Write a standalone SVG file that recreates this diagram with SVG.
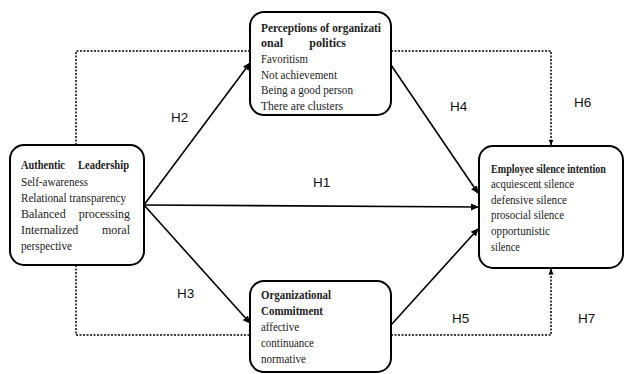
<svg xmlns="http://www.w3.org/2000/svg" width="626" height="374" viewBox="0 0 626 374">
<defs>
<style>
.box{fill:#fff;stroke:#000;stroke-width:2}
.t{font-family:"Liberation Serif","Times New Roman",serif;font-size:12px;fill:#222}
.b{font-weight:bold}
.h{font-family:"Liberation Sans",Arial,sans-serif;font-size:13.5px;fill:#111}
.sol{fill:none;stroke:#000;stroke-width:1.6}
.dot{fill:none;stroke:#000;stroke-width:1.5;stroke-dasharray:2,1.5}
</style>
<marker id="ah" markerWidth="8" markerHeight="8" refX="7" refY="4" orient="auto" markerUnits="userSpaceOnUse">
<path d="M0,0.5 L8,4 L0,7.5 Z" fill="#000"/>
</marker>
<marker id="ahs" markerWidth="6" markerHeight="6" refX="5.5" refY="3" orient="auto" markerUnits="userSpaceOnUse">
<path d="M0,0.5 L6,3 L0,5.5 Z" fill="#000"/>
</marker>
</defs>
<g id="connectors">
<path class="dot" d="M76,145 V51 H250"/>
<path class="dot" d="M391,51 H551 V145" marker-end="url(#ahs)"/>
<path class="dot" d="M76,265 V335 H250"/>
<path class="dot" d="M391,335 H551 V269" marker-end="url(#ahs)"/>
<path class="sol" d="M144,205 L250,63" marker-end="url(#ah)"/>
<path class="sol" d="M144,205 L478,207" marker-end="url(#ah)"/>
<path class="sol" d="M144,205 L250,323" marker-end="url(#ah)"/>
<path class="sol" d="M391,65 L478,193" marker-end="url(#ah)"/>
<path class="sol" d="M391,325 L478,229" marker-end="url(#ah)"/>
<text class="h" x="171" y="122">H2</text>
<text class="h" x="313" y="187">H1</text>
<text class="h" x="177" y="298">H3</text>
<text class="h" x="450" y="111">H4</text>
<text class="h" x="574" y="107">H6</text>
<text class="h" x="452" y="323">H5</text>
<text class="h" x="578" y="323">H7</text>
</g>
<g id="authentic-leadership">
<rect class="box" x="10" y="145" width="134" height="120" rx="14"/>
<text class="t b" x="21" y="169" textLength="44" lengthAdjust="spacingAndGlyphs">Authentic</text>
<text class="t b" x="78" y="169" textLength="51" lengthAdjust="spacingAndGlyphs">Leadership</text>
<text class="t" x="21" y="186" textLength="67" lengthAdjust="spacingAndGlyphs">Self-awareness</text>
<text class="t" x="21" y="202" textLength="105" lengthAdjust="spacingAndGlyphs">Relational transparency</text>
<text class="t" x="21" y="218">Balanced</text>
<text class="t" x="130" y="218" text-anchor="end">processing</text>
<text class="t" x="21" y="234">Internalized</text>
<text class="t" x="130" y="234" text-anchor="end">moral</text>
<text class="t" x="21" y="250" textLength="51" lengthAdjust="spacingAndGlyphs">perspective</text>
</g>
<g id="perceptions">
<rect class="box" x="250" y="12" width="141" height="103" rx="14"/>
<text class="t b" x="261" y="32" textLength="120" lengthAdjust="spacingAndGlyphs">Perceptions of organizati</text>
<text class="t b" x="261" y="47">onal</text>
<text class="t b" x="346" y="47" text-anchor="end">politics</text>
<text class="t" x="261" y="63" textLength="47" lengthAdjust="spacingAndGlyphs">Favoritism</text>
<text class="t" x="261" y="79" textLength="76" lengthAdjust="spacingAndGlyphs">Not achievement</text>
<text class="t" x="261" y="94" textLength="92" lengthAdjust="spacingAndGlyphs">Being a good person</text>
<text class="t" x="261" y="110" textLength="82" lengthAdjust="spacingAndGlyphs">There are  clusters</text>
</g>
<g id="commitment">
<rect class="box" x="250" y="281" width="141" height="91" rx="14"/>
<text class="t b" x="261" y="299" textLength="70" lengthAdjust="spacingAndGlyphs">Organizational</text>
<text class="t b" x="261" y="315" textLength="62" lengthAdjust="spacingAndGlyphs">Commitment</text>
<text class="t" x="261" y="331" textLength="38" lengthAdjust="spacingAndGlyphs">affective</text>
<text class="t" x="261" y="347" textLength="53" lengthAdjust="spacingAndGlyphs">continuance</text>
<text class="t" x="261" y="363" textLength="45" lengthAdjust="spacingAndGlyphs">normative</text>
</g>
<g id="employee-silence">
<rect class="box" x="479" y="146" width="144" height="122" rx="14"/>
<text class="t b" x="491" y="173" textLength="115" lengthAdjust="spacingAndGlyphs">Employee silence intention</text>
<text class="t" x="491" y="188" textLength="83" lengthAdjust="spacingAndGlyphs">acquiescent silence</text>
<text class="t" x="491" y="204" textLength="76" lengthAdjust="spacingAndGlyphs">defensive silence</text>
<text class="t" x="491" y="219" textLength="73" lengthAdjust="spacingAndGlyphs">prosocial silence</text>
<text class="t" x="491" y="235" textLength="59" lengthAdjust="spacingAndGlyphs">opportunistic</text>
<text class="t" x="491" y="251" textLength="29" lengthAdjust="spacingAndGlyphs">silence</text>
</g>
</svg>
